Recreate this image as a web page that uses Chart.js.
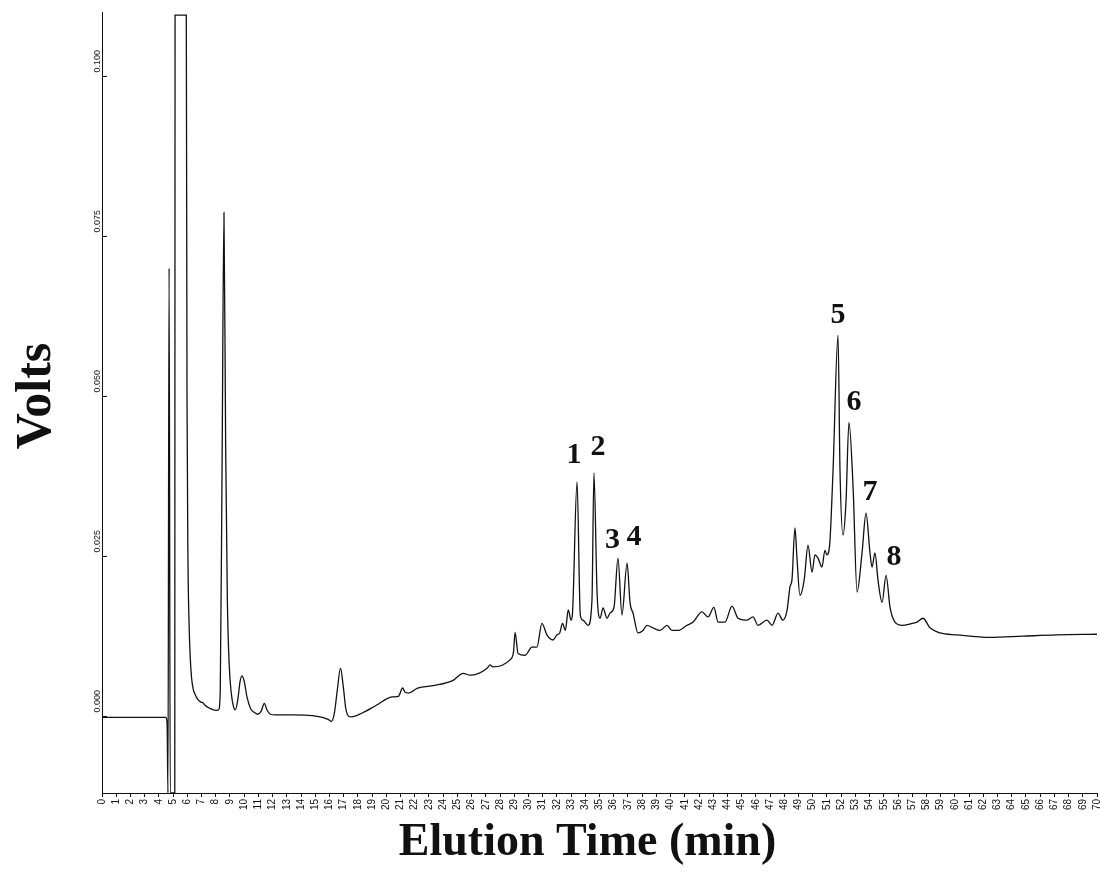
<!DOCTYPE html>
<html lang="en">
<head>
    <meta charset="UTF-8">
    <title>Elution Profile</title>
    <script src="https://cdn.jsdelivr.net/npm/chart.js"></script>
    <style>
        body {
            margin: 0;
            background-color: white;
        }
        #chart {
            display: block;
        }
    </style>
</head>
<body>
    <canvas id="chart" width="1100" height="873"></canvas>

    <script>
        // trace (minutes, volts)
        const elutionTime = [
            0, 4.50, 4.58, 4.64, 4.72, 4.80, 5.12, 5.14, 5.93, 5.98,
            6.05, 6.12, 6.20, 6.30, 6.42, 6.55, 6.75, 6.95, 7.10, 7.25,
            7.60, 8.00, 8.20, 8.32, 8.45, 8.58, 8.70, 8.82, 8.95, 9.10,
            9.25, 9.38, 9.55, 9.72, 9.85, 10.00, 10.20, 10.45, 10.70, 10.95,
            11.20, 11.42, 11.60, 11.85, 12.20, 13.50, 14.80, 15.50, 15.90, 16.15,
            16.35, 16.55, 16.78, 16.98, 17.15, 17.35, 17.55, 18.30, 19.30, 20.40,
            20.85, 21.15, 21.30, 21.55, 22.20, 23.40, 24.70, 25.40, 25.90, 27.10,
            27.30, 27.50, 28.70, 28.95, 29.06, 29.27, 29.76, 30.25, 30.60, 30.95,
            31.30, 31.73, 32.00, 32.20, 32.40, 32.60, 32.80, 33.00, 33.10, 33.42,
            33.65, 33.84, 34.20, 34.47, 34.61, 34.83, 35.04, 35.25, 35.53, 35.74,
            36.02, 36.30, 36.58, 36.94, 37.15, 37.36, 37.71, 38.06, 38.34, 38.76,
            39.26, 39.75, 40.10, 40.52, 41.16, 41.58, 42.21, 42.63, 43.05, 43.34,
            43.83, 44.32, 44.75, 45.38, 45.80, 46.15, 46.78, 47.14, 47.56, 47.90,
            48.20, 48.40, 48.54, 48.75, 48.90, 49.10, 49.40, 49.67, 49.95, 50.16,
            50.37, 50.65, 50.86, 51.00, 51.20, 51.43, 51.78, 51.92, 52.13, 52.34,
            52.55, 52.84, 53.12, 53.47, 53.75, 54.03, 54.17, 54.38, 54.59, 54.88,
            55.16, 55.44, 55.79, 56.28, 56.84, 57.34, 57.76, 58.25, 58.96, 60.15,
            62.47, 64.79, 67.19, 70.00
        ];
        const detectorVolts = [
            -0.0002, -0.0002, -0.0012, -0.012, 0.070, -0.012, -0.012, 0.1095, 0.1095, 0.050,
            0.024, 0.015, 0.0095, 0.0060, 0.0042, 0.0034, 0.0026, 0.0022, 0.0021, 0.0017,
            0.0012, 0.0009, 0.0010, 0.0040, 0.0400, 0.0787, 0.0420, 0.0180, 0.0080, 0.0035,
            0.0015, 0.0010, 0.0025, 0.0055, 0.0063, 0.0055, 0.0030, 0.0012, 0.0006, 0.0003,
            0.0008, 0.0020, 0.0010, 0.0003, 0.0002, 0.0002, 0.0001, -0.0002, -0.0005, -0.0008,
            0.0005, 0.0040, 0.0075, 0.0045, 0.0012, 0.0000, -0.0001, 0.0005, 0.0017, 0.0030,
            0.0031, 0.0044, 0.0038, 0.0036, 0.0044, 0.0048, 0.0056, 0.0067, 0.0064, 0.0075,
            0.0080, 0.0077, 0.0088, 0.0100, 0.0131, 0.0098, 0.0095, 0.0108, 0.0108, 0.0145,
            0.0127, 0.0119, 0.0127, 0.0130, 0.0145, 0.0134, 0.0166, 0.0150, 0.0161, 0.0366,
            0.0158, 0.0150, 0.0142, 0.0181, 0.0380, 0.0192, 0.0153, 0.0169, 0.0153, 0.0161,
            0.0170, 0.0247, 0.0158, 0.0239, 0.0177, 0.0161, 0.0130, 0.0134, 0.0142, 0.0138,
            0.0134, 0.0142, 0.0134, 0.0134, 0.0142, 0.0147, 0.0163, 0.0155, 0.0170, 0.0147,
            0.0147, 0.0172, 0.0153, 0.0150, 0.0155, 0.0142, 0.0150, 0.0142, 0.0161, 0.0150,
            0.0166, 0.0202, 0.0213, 0.0294, 0.0244, 0.0189, 0.0213, 0.0267, 0.0225, 0.0252,
            0.0247, 0.0233, 0.0259, 0.0252, 0.0270, 0.0384, 0.0595, 0.0384, 0.0283, 0.0334,
            0.0459, 0.0358, 0.0194, 0.0255, 0.0317, 0.0255, 0.0233, 0.0255, 0.0213, 0.0178,
            0.0220, 0.0170, 0.0147, 0.0142, 0.0144, 0.0147, 0.0153, 0.0138, 0.0130, 0.0127,
            0.0123, 0.0125, 0.0127, 0.0128
        ];

        const yTickValues = [0, 0.025, 0.05, 0.075, 0.1];

        // peak numbers and where they sit (bottom centre, in data units)
        const peakNames = ['1', '2', '3', '4', '5', '6', '7', '8'];
        const peakLabelTimes = [33.21, 34.90, 35.92, 37.43, 51.78, 52.90, 54.03, 55.72];
        const peakLabelVolts = [0.0395, 0.0408, 0.0263, 0.0267, 0.0614, 0.0478, 0.0338, 0.0236];

        const points = elutionTime.map((t, i) => ({ x: t, y: detectorVolts[i] }));

        const extrasPlugin = {
            id: 'extras',
            afterDraw(chart) {
                const { ctx, chartArea, scales: { x, y } } = chart;
                ctx.save();
                ctx.strokeStyle = '#111';
                ctx.fillStyle = '#111';
                ctx.lineWidth = 1;

                // y ticks: short marks inside, labels rotated to read upward
                ctx.font = '9px "Liberation Sans", Arial, sans-serif';
                y.ticks.forEach(tk => {
                    const py = Math.round(y.getPixelForValue(tk.value)) + 0.5;
                    ctx.beginPath();
                    ctx.moveTo(chartArea.left, py);
                    ctx.lineTo(chartArea.left + 5, py);
                    ctx.stroke();
                    ctx.save();
                    ctx.translate(chartArea.left - 2, py - 4);
                    ctx.rotate(-Math.PI / 2);
                    ctx.textAlign = 'left';
                    ctx.textBaseline = 'alphabetic';
                    ctx.fillText(tk.value.toFixed(3), 0, 0);
                    ctx.restore();
                });

                // peak numbers
                ctx.font = 'bold 30px "Liberation Serif", "Times New Roman", serif';
                ctx.textAlign = 'center';
                ctx.textBaseline = 'alphabetic';
                peakNames.forEach((name, i) => {
                    ctx.fillText(name, x.getPixelForValue(peakLabelTimes[i]), y.getPixelForValue(peakLabelVolts[i]));
                });

                // axis titles
                ctx.font = 'bold 46px "Liberation Serif", "Times New Roman", serif';
                ctx.textBaseline = 'middle';
                ctx.fillText('Elution Time (min)', (chartArea.left + chartArea.right) / 2 - 12, 843);
                ctx.font = 'bold 50px "Liberation Serif", "Times New Roman", serif';
                ctx.save();
                ctx.translate(37, 396);
                ctx.rotate(-Math.PI / 2);
                ctx.fillText('Volts', 0, 0);
                ctx.restore();

                ctx.restore();
            }
        };

        const ctx = document.getElementById('chart').getContext('2d');
        const chart = new Chart(ctx, {
            type: 'line',
            data: {
                datasets: [{
                    data: points,
                    borderColor: '#111',
                    borderWidth: 1.3,
                    pointRadius: 0,
                    fill: false,
                    cubicInterpolationMode: 'monotone'
                }]
            },
            options: {
                responsive: false,
                animation: false,
                devicePixelRatio: 1,
                layout: { padding: { top: 12, right: 3, left: 0, bottom: 0 } },
                plugins: {
                    legend: { display: false },
                    tooltip: { enabled: false }
                },
                scales: {
                    x: {
                        type: 'linear',
                        min: 0,
                        max: 70,
                        grid: {
                            drawOnChartArea: false,
                            drawTicks: true,
                            tickLength: 4,
                            color: '#111'
                        },
                        border: { display: true, color: '#111', width: 1 },
                        ticks: {
                            stepSize: 1,
                            autoSkip: false,
                            minRotation: 90,
                            maxRotation: 90,
                            padding: 2,
                            color: '#111',
                            font: { family: '"Liberation Sans", Arial, sans-serif', size: 10 }
                        },
                        afterFit(scale) {
                            scale.height = 80;
                            scale.paddingLeft = 0;
                            scale.paddingRight = 0;
                        }
                    },
                    y: {
                        min: -0.012,
                        max: 0.110,
                        grid: { drawOnChartArea: false, drawTicks: false },
                        border: { display: true, color: '#111', width: 1 },
                        ticks: { display: false },
                        afterBuildTicks(scale) {
                            scale.ticks = yTickValues.map(v => ({ value: v }));
                        },
                        afterFit(scale) {
                            scale.width = 102;
                            scale.paddingTop = 0;
                            scale.paddingBottom = 0;
                        }
                    }
                }
            },
            plugins: [extrasPlugin]
        });
    </script>
</body>
</html>
